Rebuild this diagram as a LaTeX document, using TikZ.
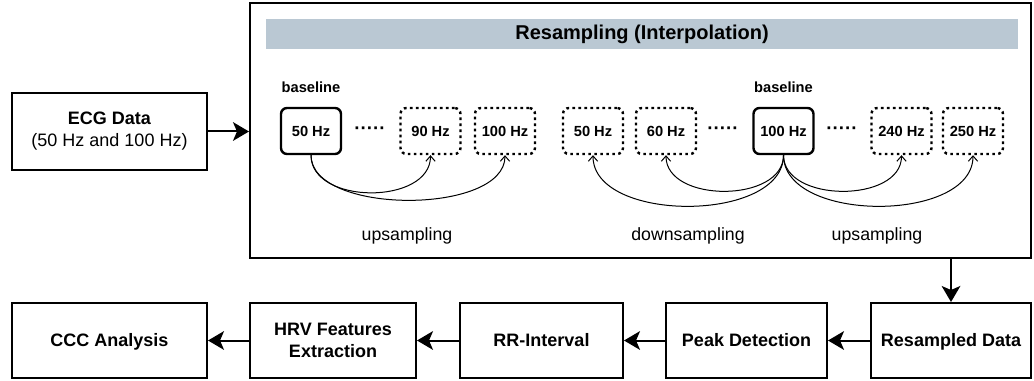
\documentclass[tikz,border=0pt]{standalone}
\usepackage{fontspec}
\setmainfont{Liberation Sans}
\usetikzlibrary{arrows.meta}
\definecolor{barfill}{HTML}{BAC8D3}

\begin{document}
\begin{tikzpicture}[x=0.75pt,y=-0.75pt,
  stagebox/.style={draw, line width=1.5pt, align=center, inner sep=2pt, minimum height=56.25pt,
    font=\fontsize{13.5}{16.5}\selectfont\bfseries},
  onestage/.style={stagebox, text height=9.6pt, text depth=0pt},
  basebox/.style={draw, line width=1.8pt, rounded corners=4.5pt, inner sep=0pt,
    minimum width=45pt, minimum height=34.5pt, text height=7.9pt, text depth=0pt,
    font=\fontsize{11}{13}\selectfont\bfseries},
  ratebox/.style={basebox, dash pattern=on 2pt off 2.5pt},
  gapdots/.style={font=\fontsize{14}{14}\selectfont\bfseries, inner sep=0pt},
  basetag/.style={font=\fontsize{11}{13}\selectfont\bfseries},
  steplabel/.style={font=\fontsize{13.3}{16}\selectfont},
  flow/.style={line width=1.5pt, -{Stealth[length=12pt,width=14pt,inset=3pt]}},
  resample/.style={line width=0.75pt, -{Straight Barb[length=4pt,width=7pt]}}]
  \useasboundingbox (0,0) rectangle (1034,381);

  \node[draw, line width=1.5pt, minimum width=585.75pt, minimum height=191.25pt] (resampling) at (640.5,130.5) {};
  \node[fill=barfill, minimum width=564pt, minimum height=22.5pt, font=\fontsize{15}{18}\selectfont\bfseries] (title) at (642,34) {Resampling (Interpolation)};

  \node[stagebox, minimum width=146.25pt, minimum height=57.75pt] (ecg) at (109.5,131.5) {ECG Data\\\mdseries(50 Hz and 100 Hz)};

  \node[basetag] (tag50) at (311,87) {baseline};
  \node[basetag] (tag100) at (783.5,87) {baseline};

  \node[basebox] (b50) at (311,131) {50 Hz};
  \node[gapdots] (gap1) at (370,131) {·····};
  \node[ratebox] (u90) at (430.5,131) {90 Hz};
  \node[ratebox] (u100) at (505,131) {100 Hz};
  \node[ratebox] (d50) at (593,131) {50 Hz};
  \node[ratebox] (d60) at (666,131) {60 Hz};
  \node[gapdots] (gap2) at (723,131) {·····};
  \node[basebox] (b100) at (783.5,131) {100 Hz};
  \node[gapdots] (gap3) at (842,131) {·····};
  \node[ratebox] (u240) at (901.5,131) {240 Hz};
  \node[ratebox] (u250) at (973,131) {250 Hz};

  \draw[resample] (b50.south) .. controls +(0,50) and +(0,50) .. (u90.south);
  \draw[resample] (b50.south) .. controls +(0,60) and +(0,60) .. (u100.south);
  \draw[resample] (b100.south) .. controls +(0,48) and +(0,48) .. (d60.south);
  \draw[resample] (b100.south) .. controls +(0,68) and +(0,68) .. (d50.south);
  \draw[resample] (b100.south) .. controls +(0,48) and +(0,48) .. (u240.south);
  \draw[resample] (b100.south) .. controls +(0,68) and +(0,68) .. (u250.south);

  \node[steplabel] (up1) at (407,236) {upsampling};
  \node[steplabel] (down) at (688,236) {downsampling};
  \node[steplabel] (up2) at (877,236) {upsampling};

  \node[onestage, minimum width=146.25pt] (ccc) at (109.5,340.5) {CCC Analysis};
  \node[stagebox, minimum width=124.5pt] (hrv) at (333,340.5) {HRV Features\\Extraction};
  \node[onestage, minimum width=122.25pt] (rr) at (541.5,340.5) {RR-Interval};
  \node[onestage, minimum width=120.75pt] (peak) at (746.5,340.5) {Peak Detection};
  \node[onestage, minimum width=120pt] (resdata) at (951,340.5) {Resampled Data};

  \draw[flow] (ecg.east) -- (resampling.west |- ecg.east);
  \draw[flow] (resampling.south -| resdata.north) -- (resdata.north);
  \draw[flow] (resdata.west) -- (peak.east);
  \draw[flow] (peak.west) -- (rr.east);
  \draw[flow] (rr.west) -- (hrv.east);
  \draw[flow] (hrv.west) -- (ccc.east);
\end{tikzpicture}
\end{document}
